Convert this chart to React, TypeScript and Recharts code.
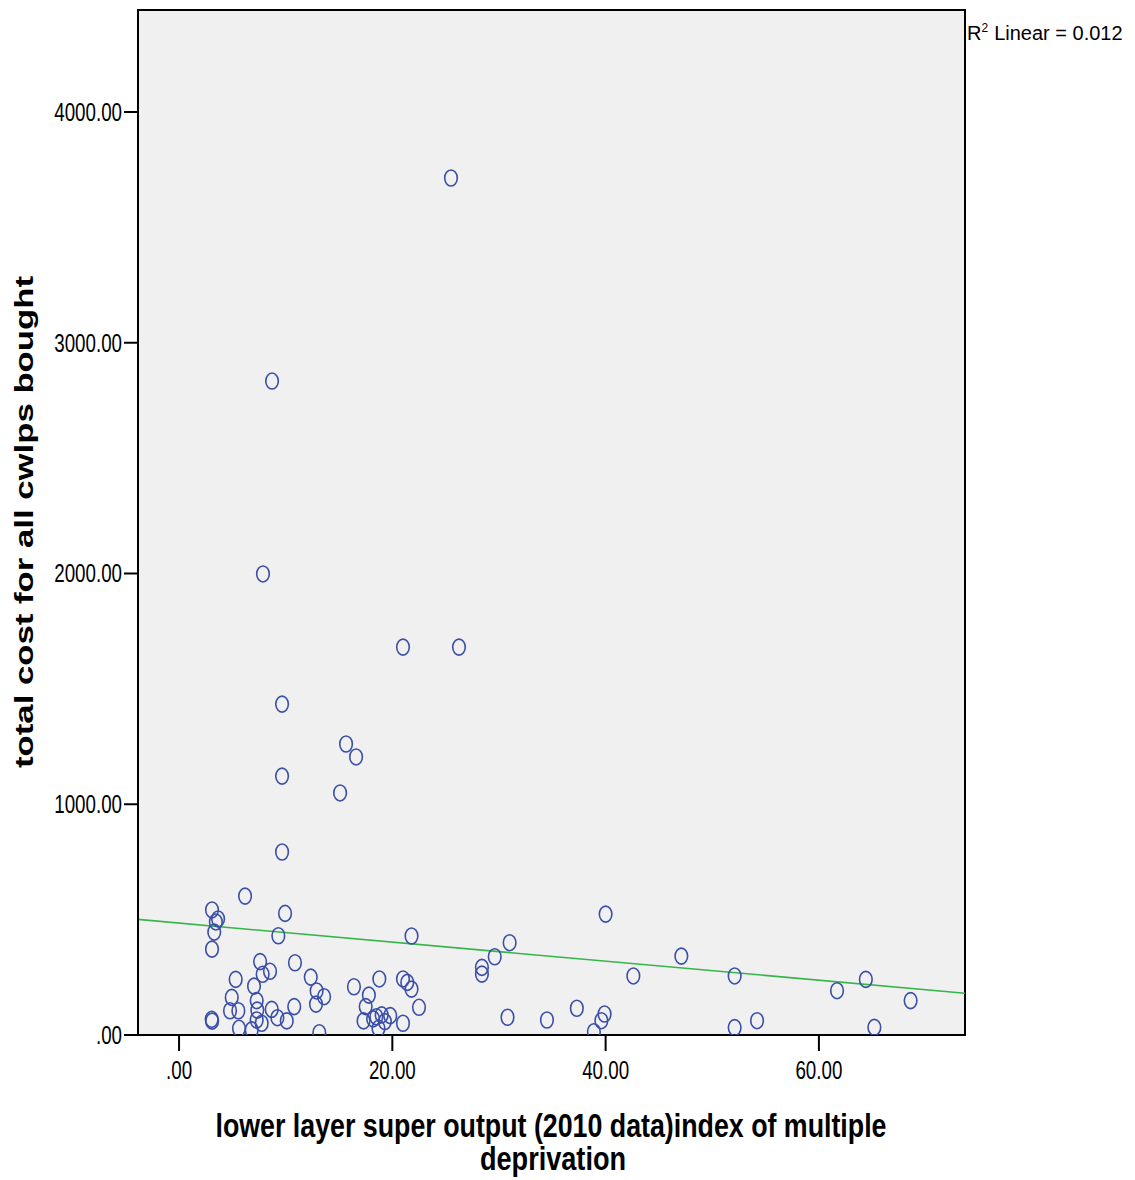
import React from 'react';
import { ScatterChart, Scatter, XAxis, YAxis, CartesianGrid, ReferenceArea, ReferenceLine } from 'recharts';

// lower layer super output index of multiple deprivation (x) vs total cost (y)
const deprivationIndex = [
  25.5, 8.72, 7.87, 21.0, 26.25, 9.66, 15.66, 16.6, 9.66, 15.1,
  9.66, 6.19, 3.09, 3.66, 3.45, 3.3, 3.09, 9.94, 9.31, 7.6,
  7.84, 8.53, 10.87, 5.31, 7.03, 12.35, 12.9, 13.6, 12.84, 4.94,
  4.78, 5.56, 7.28, 7.34, 7.28, 7.75, 8.69, 9.22, 10.1, 10.8,
  3.06, 3.1, 5.62, 6.81, 13.15, 21.8, 16.4, 18.78, 17.8, 17.5,
  17.3, 21.0, 21.4, 21.8, 22.5, 18.5, 19.0, 19.8, 19.3, 18.7,
  21.0, 18.2, 31.0, 29.6, 28.4, 28.4, 40.0, 42.6, 30.8, 34.5,
  37.3, 39.9, 39.6, 38.9, 47.1, 52.1, 61.7, 64.4, 68.6, 52.1,
  54.2, 65.2,
];

const totalCost = [
  3714, 2834, 1998, 1681, 1681, 1434, 1261, 1205, 1122, 1049,
  793, 602, 542, 503, 490, 446, 372, 527, 430, 318,
  263, 276, 313, 241, 212, 251, 191, 166, 134, 163,
  105, 105, 149, 108, 65, 51, 111, 75, 61, 123,
  68, 60, 29, 22, 10, 429, 209, 243, 173, 123,
  61, 243, 228, 199, 120, 79, 87, 84, 58, 29,
  51, 70, 400, 339, 293, 264, 524, 256, 77, 65,
  116, 91, 62, 14, 342, 256, 192, 241, 149, 32,
  62, 33,
];

// fit line end points
const fitLine = [
  { x: -3.85, y: 501 },
  { x: 73.7, y: 181 },
];

const xTicks = [0, 20, 40, 60];
const yTicks = [0, 1000, 2000, 3000, 4000];
const xDomain = [-3.85, 73.7];
const yDomain = [0, 4442];

const points = deprivationIndex.map((x, i) => ({ x, y: totalCost[i] }));

const fmt = (v: number) => (v === 0 ? '.00' : v.toFixed(2));

const font = 'Liberation Sans, Arial, sans-serif';
const tickSize = 25;

// narrow-looking tick text, squeezed like the SPSS output
const narrowLen = (s: string) => {
  let w = 0;
  for (const c of s) w += c === '.' ? 0.278 : 0.556;
  return w * tickSize * 0.75;
};

const XTick = (props: any) => {
  const s = fmt(props.payload.value);
  return (
    <text x={props.x} y={props.y} dy={18} textAnchor="middle" fontFamily={font} fontSize={tickSize}
      textLength={narrowLen(s)} lengthAdjust="spacingAndGlyphs" fill="#000">
      {s}
    </text>
  );
};

const YTick = (props: any) => {
  const s = fmt(props.payload.value);
  return (
    <text x={props.x} y={props.y} dy={9} textAnchor="end" fontFamily={font} fontSize={tickSize}
      textLength={narrowLen(s)} lengthAdjust="spacingAndGlyphs" fill="#000">
      {s}
    </text>
  );
};

const Ring = (props: any) => (
  <ellipse cx={props.cx} cy={props.cy} rx={6.3} ry={8} fill="none" stroke="#3b4fa8" strokeWidth={1.6} />
);

export default function App() {
  return (
    <div style={{ position: 'absolute', left: 0, top: 0, width: 1135, height: 1180, background: '#fff' }}>
      <ScatterChart
        width={1135}
        height={1180}
        margin={{ top: 10, right: 170, left: 0, bottom: 85 }}
        style={{ fontFamily: font }}
      >
        <CartesianGrid horizontal={false} vertical={false} fill="#f0f0f0" />
        <XAxis
          type="number"
          dataKey="x"
          domain={xDomain}
          allowDataOverflow
          ticks={xTicks}
          height={60}
          tickSize={16}
          tickMargin={10}
          axisLine={{ stroke: '#000', strokeWidth: 2 }}
          tickLine={{ stroke: '#000', strokeWidth: 2 }}
          tick={<XTick />}
        />
        <YAxis
          type="number"
          dataKey="y"
          domain={yDomain}
          allowDataOverflow
          ticks={yTicks}
          width={138}
          tickSize={14}
          tickMargin={2}
          axisLine={{ stroke: '#000', strokeWidth: 2 }}
          tickLine={{ stroke: '#000', strokeWidth: 2 }}
          tick={<YTick />}
        />
        <ReferenceArea x1={xDomain[0]} x2={xDomain[1]} y1={yDomain[0]} y2={yDomain[1]} fill="none" stroke="#000" strokeWidth={2} fillOpacity={0} />
        <ReferenceLine segment={fitLine} stroke="#36b54a" strokeWidth={1.6} />
        <Scatter data={points} shape={Ring} isAnimationActive={false} />
      </ScatterChart>
      <svg width={1135} height={1180} style={{ position: 'absolute', left: 0, top: 0, pointerEvents: 'none' }}>
        <text
          transform="translate(33 522) rotate(-90)"
          textAnchor="middle"
          fontFamily={font}
          fontWeight="bold"
          fontSize={25}
          textLength={492}
          lengthAdjust="spacingAndGlyphs"
          fill="#000"
        >
          total cost for all cwlps bought
        </text>
        <text x={551} y={1137} textAnchor="middle" fontFamily={font} fontWeight="bold" fontSize={33}
          textLength={671} lengthAdjust="spacingAndGlyphs" fill="#000">
          lower layer super output (2010 data)index of multiple
        </text>
        <text x={553} y={1170} textAnchor="middle" fontFamily={font} fontWeight="bold" fontSize={33}
          textLength={146} lengthAdjust="spacingAndGlyphs" fill="#000">
          deprivation
        </text>
        <text x={967} y={40} fontFamily={font} fontSize={20} fill="#000">
          R<tspan fontSize={12} dy={-8}>2</tspan>
          <tspan dy={8} dx={6}>Linear = 0.012</tspan>
        </text>
      </svg>
    </div>
  );
}
